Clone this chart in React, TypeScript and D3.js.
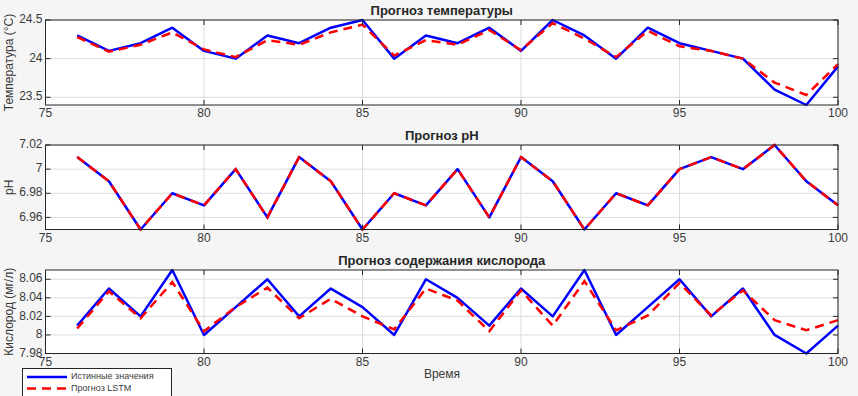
import * as d3 from "d3";

const times = d3.range(76, 101);

const tempTrue = [24.3, 24.1, 24.2, 24.4, 24.1, 24.0, 24.3, 24.2, 24.4, 24.5, 24.0, 24.3, 24.2, 24.4, 24.1, 24.5, 24.3, 24.0, 24.4, 24.2, 24.1, 24.0, 23.6, 23.4, 23.9];
const tempPred = [24.28, 24.09, 24.18, 24.34, 24.12, 24.02, 24.24, 24.18, 24.34, 24.44, 24.04, 24.24, 24.18, 24.37, 24.11, 24.46, 24.26, 24.02, 24.36, 24.16, 24.1, 24.0, 23.69, 23.53, 23.93];

const phTrue = [7.01, 6.99, 6.95, 6.98, 6.97, 7.0, 6.96, 7.01, 6.99, 6.95, 6.98, 6.97, 7.0, 6.96, 7.01, 6.99, 6.95, 6.98, 6.97, 7.0, 7.01, 7.0, 7.02, 6.99, 6.97];
const phPred = [7.01, 6.99, 6.95, 6.98, 6.97, 7.0, 6.96, 7.01, 6.99, 6.95, 6.98, 6.97, 7.0, 6.96, 7.01, 6.99, 6.95, 6.98, 6.97, 7.0, 7.01, 7.0, 7.02, 6.99, 6.97];

const oxyTrue = [8.01, 8.05, 8.02, 8.07, 8.0, 8.03, 8.06, 8.02, 8.05, 8.03, 8.0, 8.06, 8.04, 8.01, 8.05, 8.02, 8.07, 8.0, 8.03, 8.06, 8.02, 8.05, 8.0, 7.98, 8.01];
const oxyPred = [8.007, 8.047, 8.018, 8.057, 8.004, 8.03, 8.051, 8.018, 8.039, 8.02, 8.006, 8.05, 8.037, 8.004, 8.048, 8.01, 8.058, 8.005, 8.021, 8.056, 8.021, 8.048, 8.016, 8.005, 8.016];

const xTicks = [75, 80, 85, 90, 95, 100];
const tempTicks = [23.5, 24, 24.5];
const phTicks = [6.96, 6.98, 7, 7.02];
const oxyTicks = [7.98, 8, 8.02, 8.04, 8.06];

const titles = ["Прогноз температуры", "Прогноз pH", "Прогноз содержания кислорода"];
const yLabels = ["Температура (°C)", "pH", "Кислород (мг/л)"];
const legendLabels = ["Истинные значения", "Прогноз LSTM"];

const W = 858;
const H = 396;
const left = 45.5;
const right = 838;
const font = "'Liberation Sans', Arial, sans-serif";
const axisColor = "#262626";
const labelColor = "#3a3a3a";

type PanelProps = {
  top: number;
  bottom: number;
  domain: [number, number];
  ticks: number[];
  trueVals: number[];
  predVals: number[];
  title: string;
  yLabel: string;
};

function Panel({ top, bottom, domain, ticks, trueVals, predVals, title, yLabel }: PanelProps) {
  const x = d3.scaleLinear().domain([75, 100]).range([left, right]);
  const y = d3.scaleLinear().domain(domain).range([bottom, top]);
  const line = d3.line<number>()
    .x((_, i) => x(times[i]))
    .y(d => y(d));
  const fmt = d3.format("~g");
  const tk = 5;

  return (
    <g>
      <rect x={left} y={top} width={right - left} height={bottom - top} fill="#fff" />
      {xTicks.map(t => (
        <line key={"gx" + t} x1={x(t)} x2={x(t)} y1={top} y2={bottom} stroke="#dcdcdc" strokeWidth={1} />
      ))}
      {ticks.map(t => (
        <line key={"gy" + t} x1={left} x2={right} y1={y(t)} y2={y(t)} stroke="#dcdcdc" strokeWidth={1} />
      ))}
      <path d={line(trueVals) || ""} fill="none" stroke="#0000ff" strokeWidth={2.5} strokeLinejoin="round" />
      <path d={line(predVals) || ""} fill="none" stroke="#ff0000" strokeWidth={2.5} strokeDasharray="9,6" />
      {xTicks.map(t => (
        <g key={"tx" + t}>
          <line x1={x(t)} x2={x(t)} y1={bottom} y2={bottom - tk} stroke={axisColor} />
          <line x1={x(t)} x2={x(t)} y1={top} y2={top + tk} stroke={axisColor} />
          <text x={x(t)} y={bottom + 9} textAnchor="middle" fontSize={12} fill={labelColor} fontFamily={font} dominantBaseline="middle">
            {fmt(t)}
          </text>
        </g>
      ))}
      {ticks.map(t => (
        <g key={"ty" + t}>
          <line x1={left} x2={left + tk} y1={y(t)} y2={y(t)} stroke={axisColor} />
          <line x1={right} x2={right - tk} y1={y(t)} y2={y(t)} stroke={axisColor} />
          <text x={left - 3} y={y(t)} textAnchor="end" fontSize={12} fill={labelColor} fontFamily={font} dominantBaseline="middle">
            {fmt(t)}
          </text>
        </g>
      ))}
      <rect x={left} y={top} width={right - left} height={bottom - top} fill="none" stroke={axisColor} strokeWidth={1} />
      <text x={(left + right) / 2} y={top - 5} textAnchor="middle" fontSize={13} fontWeight="bold" fill={axisColor} fontFamily={font}>
        {title}
      </text>
      <text
        transform={`translate(10,${(top + bottom) / 2}) rotate(-90)`}
        textAnchor="middle"
        dominantBaseline="middle"
        fontSize={12}
        fill={labelColor}
        fontFamily={font}
      >
        {yLabel}
      </text>
    </g>
  );
}

export default function App() {
  return (
    <div style={{ position: "fixed", left: 0, top: 0, width: W, height: H }}>
      <svg width={W} height={H} style={{ display: "block", background: "#f5f5f5" }}>
        <Panel top={20} bottom={105} domain={[23.4, 24.5]} ticks={tempTicks} trueVals={tempTrue} predVals={tempPred} title={titles[0]} yLabel={yLabels[0]} />
        <Panel top={145} bottom={229.5} domain={[6.95, 7.02]} ticks={phTicks} trueVals={phTrue} predVals={phPred} title={titles[1]} yLabel={yLabels[1]} />
        <Panel top={270} bottom={353.5} domain={[7.98, 8.07]} ticks={oxyTicks} trueVals={oxyTrue} predVals={oxyPred} title={titles[2]} yLabel={yLabels[2]} />
        <text x={442} y={375} textAnchor="middle" dominantBaseline="middle" fontSize={12} fill={labelColor} fontFamily={font}>
          Время
        </text>
        <g>
          <rect x={22.5} y={368.5} width={149} height={32} fill="#fff" stroke={axisColor} strokeWidth={1} />
          <line x1={27} x2={67} y1={377} y2={377} stroke="#0000ff" strokeWidth={2.5} />
          <line x1={27} x2={67} y1={388.5} y2={388.5} stroke="#ff0000" strokeWidth={2.5} strokeDasharray="9,6" />
          <text x={71} y={377} dominantBaseline="middle" fontSize={9} fill={labelColor} fontFamily={font}>{legendLabels[0]}</text>
          <text x={71} y={388.5} dominantBaseline="middle" fontSize={9} fill={labelColor} fontFamily={font}>{legendLabels[1]}</text>
        </g>
      </svg>
    </div>
  );
}
